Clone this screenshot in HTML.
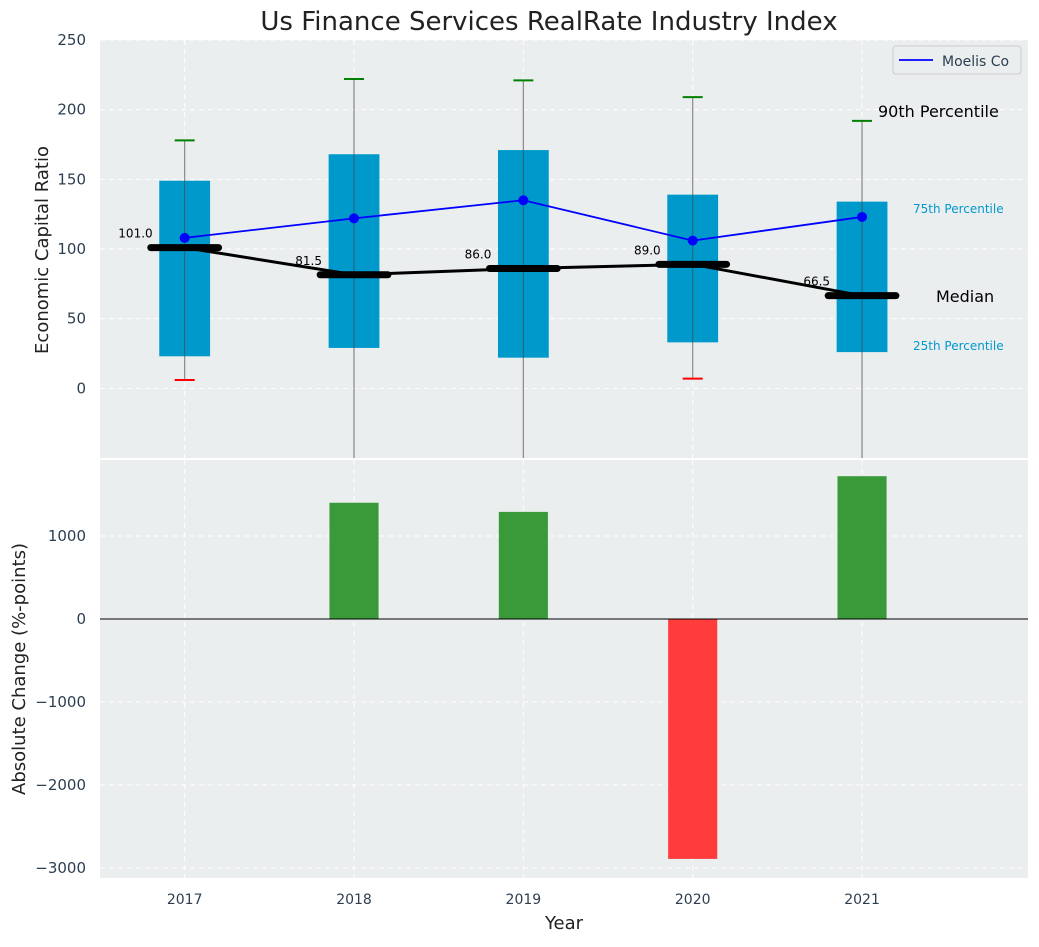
<!DOCTYPE html>
<html><head><meta charset="utf-8">
<style>
body{margin:0;background:#fff;font-family:"Liberation Sans","DejaVu Sans",sans-serif;}
svg text{font-family:"DejaVu Sans","Liberation Sans",sans-serif;}
</style></head>
<body>
<svg id="c" width="1039" height="942" xmlns="http://www.w3.org/2000/svg"></svg>
<script>
const years=[2017,2018,2019,2020,2021];
const p25=[23,29,22,33,26];
const p75=[149,168,171,139,134];
const p90=[178,222,221,209,192];
const p10=[6,-60,-60,7,-60];
const medians=[101,81.5,86,89,66.5];
const moelis=[108,122,135,106,123];
const changes=[0,1400,1290,-2890,1720];
const topTicks=[0,50,100,150,200,250];
const botTicks=[-3000,-2000,-1000,0,1000];

const NS="http://www.w3.org/2000/svg";
const svg=document.getElementById('c');
function el(t,a,txt){const e=document.createElementNS(NS,t);for(const k in a)e.setAttribute(k,a[k]);if(txt!=null)e.textContent=txt;svg.appendChild(e);return e;}
const L=100,R=1028,T1=40,B1=458,T2=460,B2=878;
const X=v=>L+(v-2016.5)/(2021.98-2016.5)*(R-L);
const Y1=v=>T1+(250-v)/(250+50)*(B1-T1);
const Y2=v=>T2+(1915-v)/(1915+3120)*(B2-T2);
const u=X(2018)-X(2017);

let e=el('rect',{x:L,y:T1,width:R-L,height:B1-T1,fill:'#eaeeef'});

e=el('rect',{x:L,y:T2,width:R-L,height:B2-T2,fill:'#eaeeef'});


topTicks.forEach(t=>{
 el('line',{x1:L,x2:R,y1:Y1(t),y2:Y1(t),stroke:'#fff','stroke-dasharray':'5,4','stroke-width':1});
 e=el('text',{x:L-14,y:Y1(t)+5,'text-anchor':'end','font-size':15,fill:'#2d3e50'},t);
 
});
botTicks.forEach(t=>{
 el('line',{x1:L,x2:R,y1:Y2(t),y2:Y2(t),stroke:'#fff','stroke-dasharray':'5,4','stroke-width':1});
 e=el('text',{x:L-14,y:Y2(t)+5,'text-anchor':'end','font-size':15,fill:'#2d3e50'},t<0?'\u2212'+(-t):t);
 
});
years.forEach(y=>{
 el('line',{x1:X(y),x2:X(y),y1:T1,y2:B1,stroke:'#fff','stroke-dasharray':'5,4'});
 el('line',{x1:X(y),x2:X(y),y1:T2,y2:B2,stroke:'#fff','stroke-dasharray':'5,4'});
 e=el('text',{x:X(y),y:904,'text-anchor':'middle','font-size':14,fill:'#2d3e50'},y);
 
});

years.forEach((y,i)=>{
 const cx=X(y),w=0.3*u;
 const yb=Math.min(Y1(p10[i]),B1);
 e=el('line',{x1:cx,x2:cx,y1:Y1(p90[i]),y2:yb,stroke:'#888','stroke-width':1.2});
 
 e=el('rect',{x:cx-w/2,y:Y1(p75[i]),width:w,height:Y1(p25[i])-Y1(p75[i]),fill:'#0099cc'});
 
 el('line',{x1:cx,x2:cx,y1:Y1(p75[i]),y2:Y1(p25[i]),stroke:'#2f5f70','stroke-width':1});
 e=el('line',{x1:cx-10,x2:cx+10,y1:Y1(p90[i]),y2:Y1(p90[i]),stroke:'green','stroke-width':2});
 
 if(p10[i]>-50){e=el('line',{x1:cx-10,x2:cx+10,y1:Y1(p10[i]),y2:Y1(p10[i]),stroke:'red','stroke-width':2});
 }
});
e=el('polyline',{points:years.map((y,i)=>X(y)+','+Y1(medians[i])).join(' '),fill:'none',stroke:'#000','stroke-width':3});

years.forEach((y,i)=>{
 e=el('line',{x1:X(y)-0.2*u,x2:X(y)+0.2*u,y1:Y1(medians[i]),y2:Y1(medians[i]),stroke:'#000','stroke-width':7,'stroke-linecap':'round'});
 
 e=el('text',{x:X(y)-32,y:Y1(medians[i])-10,'text-anchor':'end','font-size':12,fill:'#000'},medians[i].toFixed(1));
 
});
e=el('polyline',{points:years.map((y,i)=>X(y)+','+Y1(moelis[i])).join(' '),fill:'none',stroke:'#0000ff','stroke-width':1.8});

years.forEach((y,i)=>{e=el('circle',{cx:X(y),cy:Y1(moelis[i]),r:5,fill:'#0000ff'});
 });

e=el('text',{x:878,y:117,'font-size':16,fill:'#000'},'90th Percentile');
e=el('text',{x:913,y:213,'font-size':12,fill:'#0099cc'},'75th Percentile');
e=el('text',{x:936,y:302,'font-size':16,fill:'#000'},'Median');
e=el('text',{x:913,y:350,'font-size':12,fill:'#0099cc'},'25th Percentile');

e=el('rect',{x:893,y:46,width:128,height:28,rx:3,fill:'#eaeeef',stroke:'#ccc'});
el('line',{x1:899,x2:933,y1:60,y2:60,stroke:'#0000ff','stroke-width':1.8});
e=el('text',{x:942,y:66,'font-size':14,fill:'#2d3e50'},'Moelis Co');

years.forEach((y,i)=>{
 const v=changes[i];if(v===0)return;
 const w=0.29*u;
 e=el('rect',{x:X(y)-w/2,y:Math.min(Y2(v),Y2(0)),width:w,height:Math.abs(Y2(v)-Y2(0)),fill:v>0?'#3a9a3a':'#ff3c3c'});
 
});
el('line',{x1:L,x2:R,y1:Y2(0),y2:Y2(0),stroke:'#000','stroke-width':1});

e=el('text',{x:549,y:30,'text-anchor':'middle','font-size':26,fill:'#222'},'Us Finance Services RealRate Industry Index');
e=el('text',{x:48,y:250,'text-anchor':'middle','font-size':18,fill:'#222',transform:'rotate(-90 48 250)'},'Economic Capital Ratio');
e=el('text',{x:25,y:669,'text-anchor':'middle','font-size':18,fill:'#222',transform:'rotate(-90 25 669)'},'Absolute Change (%-points)');
e=el('text',{x:564,y:929,'text-anchor':'middle','font-size':18,fill:'#222'},'Year');
</script>
</body></html>
